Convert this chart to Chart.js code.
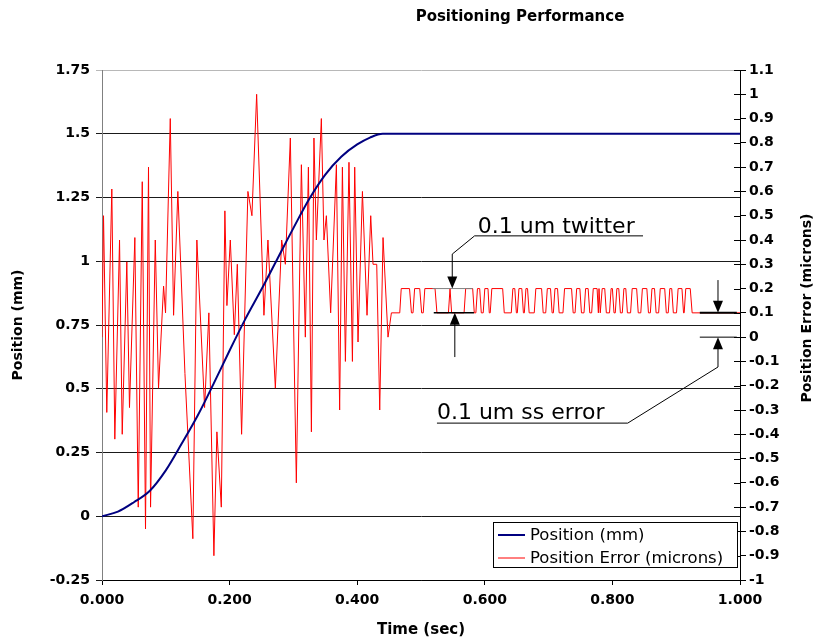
<!DOCTYPE html>
<html>
<head>
<meta charset="utf-8">
<title>Positioning Performance</title>
<script src="https://cdn.jsdelivr.net/npm/chart.js@4.4.1/dist/chart.umd.min.js"></script>
<style>
  html, body { margin: 0; padding: 0; background: #fff; }
  canvas { display: block; }
</style>
</head>
<body>
<canvas id="perfChart" width="816" height="641"></canvas>
<script>
/* ---------- data ---------- */
const xTicks = [0, 0.2, 0.4, 0.6, 0.8, 1.0];
const leftTicks = [-0.25, 0, 0.25, 0.5, 0.75, 1, 1.25, 1.5, 1.75];
const rightTicks = [-1, -0.9, -0.8, -0.7, -0.6, -0.5, -0.4, -0.3, -0.2, -0.1, 0,
  0.1, 0.2, 0.3, 0.4, 0.5, 0.6, 0.7, 0.8, 0.9, 1, 1.1];

// position (mm) vs time (sec)
const posTime  = [0, 0.025, 0.05, 0.075, 0.1, 0.125, 0.15, 0.175, 0.2, 0.225, 0.25,
  0.275, 0.3, 0.325, 0.35, 0.375, 0.4, 0.42, 0.44, 1.0];
const posValue = [0, 0.018, 0.055, 0.1, 0.18, 0.285, 0.395, 0.52, 0.65, 0.775, 0.89,
  1.01, 1.13, 1.245, 1.34, 1.41, 1.458, 1.485, 1.5, 1.5];

// position error (microns), move transient
const errTimeMove = [0, 0.0024, 0.0075, 0.0154, 0.0201, 0.0275, 0.0317, 0.0389, 0.0431,
  0.0515, 0.0568, 0.0631, 0.0682, 0.0729, 0.0761, 0.0835, 0.0886, 0.0965, 0.0996, 0.107,
  0.1122, 0.1189, 0.13, 0.1424, 0.1487, 0.1608, 0.1675, 0.1754, 0.1801, 0.187, 0.1926,
  0.1958, 0.2011, 0.2074, 0.2121, 0.2188, 0.2287, 0.235, 0.2424, 0.2538, 0.2601, 0.2717,
  0.2816, 0.2874, 0.2952, 0.3046, 0.3125, 0.3187, 0.3235, 0.3282, 0.3322, 0.336, 0.3438,
  0.3479, 0.3517, 0.3584, 0.3674, 0.3725, 0.3768, 0.3815, 0.3871, 0.3925, 0.3961, 0.4013,
  0.4082, 0.4154, 0.4212, 0.4248, 0.4306, 0.4353, 0.4405, 0.4483];
const errValueMove = [0, 0.5, -0.31, 0.61, -0.42, 0.4, -0.4, 0.31, -0.29,
  0.41, -0.7, 0.64, -0.79, 0.7, -0.7, 0.4, -0.21, 0.21, 0.1, 0.9,
  0.09, 0.6, -0.15, -0.83, 0.4, -0.29, 0.1, -0.9, -0.39, -0.7, 0.52,
  0.13, 0.4, 0.01, 0.3, -0.4, 0.6, 0.5, 1.0, 0.09, 0.4, -0.21,
  0.4, 0.3, 0.82, -0.6, 0.71, 0, 0.7, -0.39, 0.82, 0.4, 0.9,
  0.4, 0.5, 0.1, 0.71, -0.3, 0.7, -0.1, 0.72, -0.1, 0.7, -0.02,
  0.6, 0.09, 0.5, 0.3, 0.3, -0.3, 0.41, 0];

// position error (microns), settled twitter between 0.1 and 0.2
const errTimeSettle = [0.4536, 0.4667, 0.469, 0.482, 0.485, 0.4875, 0.49, 0.498, 0.501,
  0.5035, 0.506, 0.522, 0.525, 0.543, 0.5455, 0.548, 0.5675, 0.57, 0.581, 0.5835,
  0.586, 0.5885, 0.592, 0.5945, 0.5975, 0.6, 0.605, 0.607, 0.6085, 0.611, 0.628, 0.6305,
  0.6415, 0.644, 0.647, 0.6495, 0.651, 0.6535, 0.658, 0.6605, 0.662, 0.6645, 0.667, 0.6695,
  0.6775, 0.68, 0.689, 0.6915, 0.6955, 0.698, 0.703, 0.7055, 0.7075, 0.71, 0.714, 0.7165,
  0.7225, 0.725, 0.736, 0.7385, 0.7415, 0.744, 0.749, 0.7515, 0.7555, 0.758, 0.762, 0.7645,
  0.7675, 0.77, 0.776, 0.778, 0.779, 0.781, 0.782, 0.784, 0.788, 0.7905, 0.7955, 0.798,
  0.8, 0.8025, 0.8045, 0.807, 0.81, 0.8125, 0.8155, 0.818, 0.821, 0.8235, 0.8285, 0.831,
  0.838, 0.8405, 0.8445, 0.847, 0.854, 0.8565, 0.8595, 0.862, 0.866, 0.8685, 0.8725, 0.875,
  0.882, 0.8845, 0.8875, 0.89, 0.893, 0.8955, 0.9005, 0.903, 0.909, 0.9115, 0.9125, 0.915,
  0.922, 0.925, 1.0];
const errValueSettle = [0.1, 0.1, 0.2, 0.2, 0.1, 0.1, 0.2, 0.2, 0.1,
  0.1, 0.2, 0.2, 0.1, 0.1, 0.2, 0.1, 0.1, 0.2, 0.2, 0.1,
  0.1, 0.2, 0.2, 0.1, 0.1, 0.2, 0.2, 0.1, 0.1, 0.2, 0.2, 0.1,
  0.1, 0.2, 0.2, 0.1, 0.1, 0.2, 0.2, 0.1, 0.1, 0.2, 0.2, 0.1,
  0.1, 0.2, 0.2, 0.1, 0.1, 0.2, 0.2, 0.1, 0.1, 0.2, 0.2, 0.1,
  0.1, 0.2, 0.2, 0.1, 0.1, 0.2, 0.2, 0.1, 0.1, 0.2, 0.2, 0.1,
  0.1, 0.2, 0.2, 0.1, 0.2, 0.1, 0.1, 0.2, 0.2, 0.1, 0.1, 0.2,
  0.2, 0.1, 0.1, 0.2, 0.2, 0.1, 0.1, 0.2, 0.2, 0.1, 0.1, 0.2,
  0.2, 0.1, 0.1, 0.2, 0.2, 0.1, 0.1, 0.2, 0.2, 0.1, 0.1, 0.2,
  0.2, 0.1, 0.1, 0.2, 0.2, 0.1, 0.1, 0.2, 0.2, 0.1, 0.1, 0.2,
  0.2, 0.1, 0.1];

/* ---------- helpers ---------- */
const FONT = "'DejaVu Sans', 'Liberation Sans', sans-serif";
const toXY = (ts, vs) => ts.map((t, i) => ({ x: t, y: vs[i] }));
const tickFont = { family: FONT, size: 14, weight: "bold" };

function arrow(ctx, x, yFrom, yTo) {
  const dir = yTo > yFrom ? 1 : -1;
  ctx.beginPath();
  ctx.moveTo(x, yFrom);
  ctx.lineTo(x, yTo - dir * 10);
  ctx.stroke();
  ctx.beginPath();
  ctx.moveTo(x, yTo);
  ctx.lineTo(x - 5, yTo - dir * 12);
  ctx.lineTo(x + 5, yTo - dir * 12);
  ctx.closePath();
  ctx.fill();
}

function hline(ctx, x1, x2, y, color, w) {
  ctx.strokeStyle = color;
  ctx.lineWidth = w;
  ctx.beginPath();
  ctx.moveTo(x1, y);
  ctx.lineTo(x2, y);
  ctx.stroke();
}

/* ---------- extras: title, right title, legend, callouts ---------- */
const extras = {
  id: "extras",
  afterDraw(chart) {
    const { ctx, chartArea } = chart;
    const X = (v) => chart.scales.x.getPixelForValue(v);
    const Y1 = (v) => chart.scales.y1.getPixelForValue(v);
    ctx.save();
    ctx.fillStyle = "#000";

    // chart title
    ctx.font = `bold 15px ${FONT}`;
    ctx.textAlign = "center";
    ctx.textBaseline = "middle";
    ctx.fillText("Positioning Performance", 520, 17);

    // right axis title (reads bottom to top)
    ctx.save();
    ctx.translate(807, (chartArea.top + chartArea.bottom) / 2 - 17);
    ctx.rotate(-Math.PI / 2);
    ctx.font = `bold 14px ${FONT}`;
    ctx.fillText("Position Error (microns)", 0, 0);
    ctx.restore();

    // right axis ticks also cross into the plot
    ctx.strokeStyle = "#000";
    ctx.lineWidth = 1;
    rightTicks.forEach((v) => {
      const y = Math.round(Y1(v)) + 0.5;
      ctx.beginPath();
      ctx.moveTo(chartArea.right - 6, y);
      ctx.lineTo(chartArea.right, y);
      ctx.stroke();
    });

    // "0.1 um twitter" callout
    ctx.lineWidth = 1;
    ctx.strokeStyle = "#000";
    ctx.font = `22px ${FONT}`;
    ctx.textAlign = "left";
    ctx.textBaseline = "alphabetic";
    ctx.fillText("0.1 um twitter", X(0.589), Y1(0.417) - 3);
    ctx.beginPath();
    ctx.moveTo(X(0.848), Y1(0.417));
    ctx.lineTo(X(0.584), Y1(0.417));
    ctx.lineTo(X(0.549), Y1(0.342));
    ctx.stroke();
    arrow(ctx, X(0.549), Y1(0.342), Y1(0.2));
    hline(ctx, X(0.518), X(0.581), Y1(0.2), "#808080", 1);
    hline(ctx, X(0.52), X(0.583), Y1(0.1), "#000", 1.5);
    ctx.strokeStyle = "#000";
    ctx.lineWidth = 1;
    arrow(ctx, X(0.553), Y1(-0.082), Y1(0.1));

    // "0.1 um ss error" callout
    arrow(ctx, X(0.9655), Y1(0.235), Y1(0.1));
    hline(ctx, X(0.937), X(0.995), Y1(0.1), "#000", 2);
    hline(ctx, X(0.937), X(0.995), Y1(0), "#000", 1);
    ctx.strokeStyle = "#000";
    ctx.lineWidth = 1;
    arrow(ctx, X(0.9655), Y1(-0.123), Y1(0));
    ctx.beginPath();
    ctx.moveTo(X(0.9655), Y1(-0.123));
    ctx.lineTo(X(0.824), Y1(-0.354));
    ctx.lineTo(X(0.525), Y1(-0.354));
    ctx.stroke();
    ctx.fillText("0.1 um ss error", X(0.525), Y1(-0.354) - 4);

    // legend box
    const lx = 493, ly = 522, lw = 244, lh = 45;
    ctx.fillStyle = "#fff";
    ctx.fillRect(lx, ly, lw, lh);
    ctx.strokeStyle = "#000";
    ctx.lineWidth = 1;
    ctx.strokeRect(lx + 0.5, ly + 0.5, lw, lh);
    ctx.font = `16.5px ${FONT}`;
    ctx.textBaseline = "middle";
    chart.data.datasets.forEach((ds, i) => {
      const y = ly + 13 + i * 23;
      hline(ctx, lx + 5, lx + 32, y, ds.borderColor, ds.borderWidth);
      ctx.fillStyle = "#000";
      ctx.fillText(ds.label, lx + 37, y + 1);
    });
    ctx.restore();
  },
};

/* ---------- chart ---------- */
const chart = new Chart(document.getElementById("perfChart"), {
  type: "line",
  data: {
    datasets: [
      {
        label: "Position (mm)",
        data: toXY(posTime, posValue),
        yAxisID: "y",
        borderColor: "#000080",
        borderWidth: 2,
        cubicInterpolationMode: "monotone",
        pointRadius: 0,
      },
      {
        label: "Position Error (microns)",
        data: toXY(errTimeMove.concat(errTimeSettle), errValueMove.concat(errValueSettle)),
        yAxisID: "y1",
        borderColor: "#ff0000",
        borderWidth: 1,
        tension: 0,
        pointRadius: 0,
      },
    ],
  },
  options: {
    responsive: false,
    animation: false,
    devicePixelRatio: 1,
    layout: { padding: { top: 70, left: 0, right: 0, bottom: 0 } },
    plugins: { legend: { display: false }, tooltip: { enabled: false } },
    scales: {
      x: {
        type: "linear",
        min: 0,
        max: 1,
        afterBuildTicks: (s) => { s.ticks = xTicks.map((v) => ({ value: v })); },
        afterFit: (s) => { s.height = 61; },
        ticks: {
          callback: (v) => Number(v).toFixed(3),
          font: tickFont,
          color: "#000",
          padding: 7,
          maxRotation: 0,
          autoSkip: false,
        },
        grid: { drawOnChartArea: false, tickLength: 5, color: "#000" },
        border: { color: "#000" },
        title: {
          display: true,
          text: "Time (sec)",
          color: "#000",
          font: { family: FONT, size: 15, weight: "bold" },
          padding: { top: 0, bottom: 2 },
        },
      },
      y: {
        position: "left",
        min: -0.25,
        max: 1.75,
        afterBuildTicks: (s) => { s.ticks = leftTicks.map((v) => ({ value: v })); },
        afterFit: (s) => { s.width = 102; },
        ticks: {
          callback: (v) => String(v),
          font: tickFont,
          color: "#000",
          padding: 6,
        },
        grid: {
          color: (c) => (c.tick && c.tick.value === 1.75 ? "#b8b8b8" : "#1a1a1a"),
          tickLength: 6,
        },
        border: { color: "#808080" },
        title: {
          display: true,
          text: "Position (mm)",
          color: "#000",
          font: { family: FONT, size: 14, weight: "bold" },
          padding: { top: 10, bottom: 0 },
        },
      },
      y1: {
        position: "right",
        min: -1,
        max: 1.1,
        afterBuildTicks: (s) => { s.ticks = rightTicks.map((v) => ({ value: v })); },
        afterFit: (s) => { s.width = 76; },
        ticks: {
          callback: (v) => String(Number(Number(v).toFixed(1))),
          font: tickFont,
          color: "#000",
          padding: 3,
          autoSkip: false,
        },
        grid: { drawOnChartArea: false, tickLength: 6, color: "#000" },
        border: { color: "#000" },
      },
    },
  },
  plugins: [extras],
});
</script>
</body>
</html>
